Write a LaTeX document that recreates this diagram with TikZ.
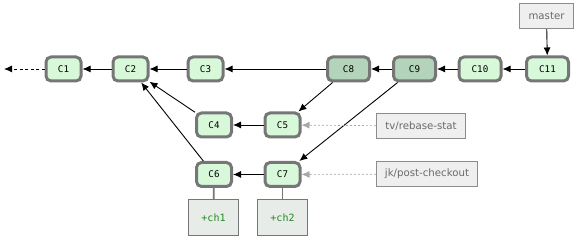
\documentclass[tikz,border=0pt]{standalone}
\usepackage{fontspec}
\newfontfamily\cmono{DejaVu Sans Mono}
\newfontfamily\lsans{DejaVu Sans}
\usetikzlibrary{arrows.meta}
\definecolor{cfill}{HTML}{D8F8DA}
\definecolor{cfilldark}{HTML}{B3D3BA}
\definecolor{cborder}{HTML}{767676}
\definecolor{bfill}{HTML}{EFEFEF}
\definecolor{bborder}{HTML}{8C8C8C}
\definecolor{btext}{HTML}{6A6A6A}
\definecolor{chfill}{HTML}{E8ECE8}
\definecolor{chtext}{HTML}{1E8A1E}
\definecolor{refgray}{HTML}{A8A8A8}
\tikzset{
  commit/.style={draw=cborder, line width=3pt, fill=cfill, rounded corners=5pt,
    minimum width=35pt, minimum height=24pt, inner sep=0pt,
    font=\cmono\fontsize{9.2}{10}\selectfont},
  wide/.style={minimum width=42pt},
  dark/.style={fill=cfilldark},
  branch/.style={draw=bborder, line width=1.3pt, fill=bfill, inner sep=0pt,
    minimum height=25pt, text=btext, font=\lsans\fontsize{10.2}{12}\selectfont},
  chbox/.style={draw=cborder, line width=1pt, fill=chfill, inner sep=0pt,
    minimum width=50pt, minimum height=36pt, text=chtext,
    font=\cmono\fontsize{10}{12}\selectfont},
  parent/.style={-{Latex[length=8pt,width=7pt]}, line width=0.9pt, black},
  pastline/.style={-{Latex[length=8pt,width=7pt]}, line width=0.9pt, black,
    dash pattern=on 3pt off 2.5pt},
  ref/.style={-{Latex[length=8pt,width=7pt]}, line width=0.7pt, draw=refgray,
    dash pattern=on 2pt off 2pt},
  attach/.style={draw=cborder, line width=1.8pt},
}
\begin{document}
\begin{tikzpicture}[x=1pt,y=-1pt]
\useasboundingbox (0,0) rectangle (580,237);
% commits
\node[commit] (c1) at (63.5,69) {C1};
\node[commit] (c2) at (130.5,69) {C2};
\node[commit] (c3) at (205.5,69) {C3};
\node[commit,wide,dark] (c8) at (348.5,69) {C8};
\node[commit,wide,dark] (c9) at (414.5,69) {C9};
\node[commit,wide] (c10) at (480,69) {C10};
\node[commit,wide] (c11) at (547.5,69) {C11};
\node[commit] (c4) at (214,125) {C4};
\node[commit] (c5) at (282.5,125) {C5};
\node[commit] (c6) at (214,174.5) {C6};
\node[commit] (c7) at (282.5,174.5) {C7};
% branches
\node[branch,minimum width=89pt] (tv) at (421,126) {tv/rebase-stat};
\node[branch,minimum width=101pt] (jk) at (427,174) {jk/post-checkout};
\node[branch,minimum width=54pt] (master) at (546.5,16) {master};
% change boxes
\node[chbox] (ch1) at (213.5,217.5) {+ch1};
\node[chbox] (ch2) at (282.5,217.5) {+ch2};
\coordinate (past) at (4,69);
% parent arrows
\draw[pastline] (c1) -- (past);
\draw[parent] (c2) -- (c1);
\draw[parent] (c3) -- (c2);
\draw[parent] (c8) -- (c3);
\draw[parent] (c9) -- (c8);
\draw[parent] (c10) -- (c9);
\draw[parent] (c11) -- (c10);
\draw[parent] (c4) -- (c2);
\draw[parent] (c6) -- (c2);
\draw[parent] (c5) -- (c4);
\draw[parent] (c7) -- (c6);
\draw[parent] (c8) -- (c5);
\draw[parent] (c9) -- (c7);
\draw[parent] (master) -- (c11);
% refs
\draw[ref] (tv) -- (c5);
\draw[ref] (jk) -- (c7);
% attachments
\draw[attach] (c6) -- (ch1);
\draw[attach] (c7) -- (ch2);
\end{tikzpicture}
\end{document}
